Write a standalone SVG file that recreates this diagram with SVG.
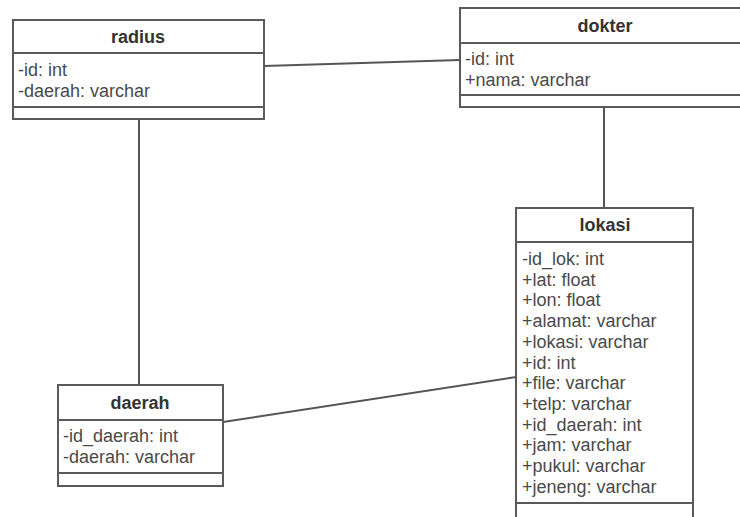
<svg xmlns="http://www.w3.org/2000/svg" width="740" height="517" viewBox="0 0 740 517">
<style>
.box{fill:#fff;stroke:#5a5a5a;stroke-width:2}
.sep{stroke:#5a5a5a;stroke-width:2}
.title{font-family:"Liberation Sans",Arial,sans-serif;font-size:18px;font-weight:bold;fill:#333;text-anchor:middle}
.attr{font-family:"Liberation Sans",Arial,sans-serif;font-size:18px;fill:#4a4a4a}
.conn{stroke:#555;stroke-width:2;fill:none}
</style>
<rect width="740" height="517" fill="#fff"/>
<g id="connectors">
<line class="conn" x1="264" y1="66" x2="460" y2="60"/>
<line class="conn" x1="139" y1="119" x2="139" y2="385"/>
<line class="conn" x1="604" y1="107" x2="604" y2="208"/>
<line class="conn" x1="223" y1="422" x2="516" y2="377"/>
</g>
<g id="radius">
<rect class="box" x="13" y="20" width="251" height="99"/>
<line class="sep" x1="13" y1="53" x2="264" y2="53"/>
<line class="sep" x1="13" y1="107" x2="264" y2="107"/>
<text class="title" x="138" y="43">radius</text>
<text class="attr" x="18" y="76">-id: int</text>
<text class="attr" x="18" y="96.7">-daerah: varchar</text>
</g>
<g id="dokter">
<rect class="box" x="460" y="8" width="292" height="99"/>
<line class="sep" x1="460" y1="43" x2="752" y2="43"/>
<line class="sep" x1="460" y1="95" x2="752" y2="95"/>
<text class="title" x="605" y="32">dokter</text>
<text class="attr" x="465" y="65">-id: int</text>
<text class="attr" x="465" y="85.7">+nama: varchar</text>
</g>
<g id="lokasi">
<rect class="box" x="516" y="208" width="177" height="320"/>
<line class="sep" x1="516" y1="242" x2="693" y2="242"/>
<line class="sep" x1="516" y1="503" x2="693" y2="503"/>
<text class="title" x="605" y="231">lokasi</text>
<text class="attr" x="522" y="265">-id_lok: int</text>
<text class="attr" x="522" y="285.7">+lat: float</text>
<text class="attr" x="522" y="306.4">+lon: float</text>
<text class="attr" x="522" y="327.1">+alamat: varchar</text>
<text class="attr" x="522" y="347.8">+lokasi: varchar</text>
<text class="attr" x="522" y="368.5">+id: int</text>
<text class="attr" x="522" y="389.2">+file: varchar</text>
<text class="attr" x="522" y="409.9">+telp: varchar</text>
<text class="attr" x="522" y="430.6">+id_daerah: int</text>
<text class="attr" x="522" y="451.3">+jam: varchar</text>
<text class="attr" x="522" y="472">+pukul: varchar</text>
<text class="attr" x="522" y="492.7">+jeneng: varchar</text>
</g>
<g id="daerah">
<rect class="box" x="58" y="385" width="165" height="101"/>
<line class="sep" x1="58" y1="420" x2="223" y2="420"/>
<line class="sep" x1="58" y1="473" x2="223" y2="473"/>
<text class="title" x="140" y="409">daerah</text>
<text class="attr" x="63" y="442">-id_daerah: int</text>
<text class="attr" x="63" y="462.7">-daerah: varchar</text>
</g>
</svg>
